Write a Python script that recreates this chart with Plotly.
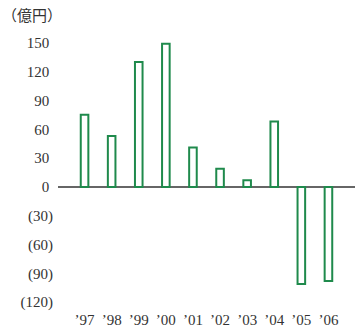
import plotly.graph_objects as go

years = ["’97", "’98", "’99", "’00", "’01", "’02", "’03", "’04", "’05", "’06"]
values = [75, 53, 130, 149, 41, 19, 7, 68, -101, -98]
tick_vals = [150, 120, 90, 60, 30, 0, -30, -60, -90, -120]
tick_text = ["150\u00a0", "120\u00a0", "90\u00a0", "60\u00a0", "30\u00a0", "0\u00a0", "(30)", "(60)", "(90)", "(120)"]
unit_label = "（億円）"

fig = go.Figure()
fig.add_trace(go.Bar(
    x=list(range(len(years))), y=values,
    width=0.28,
    marker=dict(color="white", line=dict(color="#1f8a4c", width=2)),
))
fig.update_layout(
    width=355, height=331,
    margin=dict(l=58, r=0, t=38, b=24),
    paper_bgcolor="white", plot_bgcolor="white",
    showlegend=False,
    font=dict(family="Liberation Serif, Noto Sans CJK JP", size=15, color="#333333"),
    xaxis=dict(range=[-0.98, 9.98], tickmode="array",
               tickvals=list(range(len(years))), ticktext=years,
               showgrid=False, zeroline=False, showline=False, ticks="",
               tickfont=dict(size=15), automargin=False, ticklabelstandoff=2),
    yaxis=dict(range=[-125, 155], tickmode="array", tickvals=tick_vals, ticktext=tick_text,
               showgrid=False, zeroline=True, zerolinecolor="#666666", zerolinewidth=1.5,
               showline=False, ticks="", ticklabelstandoff=4, automargin=False),
    annotations=[dict(text=unit_label, xref="paper", yref="paper", x=-0.195, y=1.04,
                      xanchor="left", yanchor="bottom", showarrow=False,
                      font=dict(size=15, family="Noto Sans CJK JP"))],
)
fig.write_html("out.html", config={"displayModeBar": False},
               post_script="document.body.style.margin='0';")
